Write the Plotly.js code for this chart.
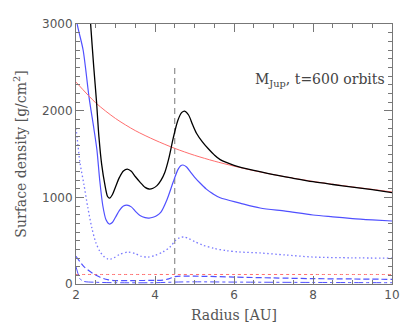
<!DOCTYPE html>
<html>
<head>
<meta charset="utf-8">
<script src="https://cdn.plot.ly/plotly-3.0.1.min.js"></script>
<style>
  body { margin: 0; background: #fff; }
  #chart { width: 415px; height: 332px; }
</style>
</head>
<body>
<div id="chart"></div>
<script>
// total density (black)
const rTotal = [2.3, 2.37, 2.45, 2.52, 2.58, 2.65, 2.73, 2.8, 2.85, 2.92, 3.0, 3.1, 3.2, 3.3, 3.4, 3.5, 3.62, 3.75, 3.85, 3.95, 4.05, 4.15, 4.25, 4.35, 4.46, 4.58, 4.68, 4.75, 4.85, 4.95, 5.05, 5.2, 5.35, 5.5, 5.65, 6.0, 6.5, 7.0, 7.5, 8.0, 8.5, 9.0, 9.5, 10.0];
const sigTotal = [3500, 3000, 2500, 2100, 1700, 1380, 1150, 1010, 990, 1030, 1120, 1230, 1305, 1326, 1300, 1240, 1176, 1115, 1096, 1105, 1135, 1195, 1290, 1450, 1680, 1890, 1980, 1995, 1950, 1840, 1740, 1640, 1560, 1490, 1435, 1370, 1310, 1262, 1220, 1180, 1148, 1118, 1088, 1055];

// initial profile (red)
const rInit = [2.0, 2.5, 3.0, 3.5, 4.0, 4.5, 5.0, 5.5, 6.0, 6.5, 7.0, 7.5, 8.0, 8.5, 9.0, 9.5, 10.0];
const sigInit = [2330, 2090, 1910, 1770, 1660, 1565, 1485, 1418, 1360, 1308, 1262, 1221, 1184, 1151, 1120, 1092, 1062];

// blue solid
const rBlue = [2.0, 2.03, 2.18, 2.33, 2.45, 2.53, 2.6, 2.68, 2.76, 2.84, 2.92, 3.0, 3.1, 3.2, 3.29, 3.4, 3.5, 3.62, 3.75, 3.85, 3.95, 4.05, 4.15, 4.3, 4.46, 4.58, 4.65, 4.71, 4.8, 4.9, 5.0, 5.14, 5.3, 5.47, 5.65, 6.15, 6.66, 7.3, 8.0, 8.5, 9.0, 9.5, 10.0];
const sigBlue = [3150, 3000, 2700, 2157, 1800, 1546, 1200, 900, 740, 692, 710, 770, 850, 900, 911, 890, 840, 790, 765, 761, 770, 790, 830, 970, 1176, 1320, 1365, 1373, 1350, 1290, 1234, 1165, 1095, 1040, 995, 934, 877, 840, 796, 775, 755, 740, 727];

// blue dotted
const rDot = [2.0, 2.05, 2.1, 2.2, 2.3, 2.4, 2.5, 2.6, 2.7, 2.8, 2.86, 2.95, 3.1, 3.32, 3.5, 3.65, 3.82, 4.0, 4.2, 4.38, 4.53, 4.63, 4.73, 4.85, 5.0, 5.2, 5.5, 5.8, 6.15, 6.66, 7.3, 8.0, 9.0, 10.0];
const sigDot = [1800, 1600, 1400, 1150, 880, 650, 480, 380, 320, 290, 285, 300, 340, 369, 350, 320, 311, 330, 370, 427, 507, 535, 542, 525, 490, 450, 410, 385, 369, 358, 335, 311, 302, 298];

// red dotted
const rRedDot = [2.0, 4.0, 6.0, 8.0, 10.0];
const sigRedDot = [110, 110, 110, 110, 110];

// blue dashed
const rDash = [2.0, 2.2, 2.4, 2.6, 2.8, 3.0, 3.5, 4.0, 4.2, 4.35, 4.5, 5.0, 6.0, 7.0, 8.0, 9.0, 10.0];
const sigDash = [320, 200, 130, 80, 50, 40, 40, 42, 45, 60, 85, 90, 80, 70, 62, 58, 54];

// blue dash-dot
const rDashDot = [2.0, 2.05, 2.1, 2.2, 2.5, 3.0, 4.0, 4.5, 5.0, 6.0, 8.0, 10.0];
const sigDashDot = [200, 120, 60, 30, 20, 15, 15, 22, 25, 22, 18, 15];

// planet location marker
const rPlanet = [4.5, 4.5];
const sigPlanet = [0, 2500];

const blue = 'rgb(80,80,255)';
const lightBlue = 'rgb(120,120,255)';
const red = 'rgb(255,110,110)';

function line(x, y, color, dash, width) {
  return {
    x: x, y: y, type: 'scatter', mode: 'lines',
    line: {color: color, dash: dash, width: width || 1.2, shape: 'spline', smoothing: 0.8},
    hoverinfo: 'skip', showlegend: false
  };
}

const traces = [
  line(rPlanet, sigPlanet, 'rgb(120,120,120)', '6px,4px', 1),
  line(rRedDot, sigRedDot, red, 'dot', 1),
  line(rDashDot, sigDashDot, blue, 'dashdot', 1),
  line(rDash, sigDash, blue, '6px,3px', 1.2),
  line(rDot, sigDot, lightBlue, '1.5px,2.5px', 1.3),
  line(rBlue, sigBlue, blue, 'solid', 1.2),
  line(rInit, sigInit, red, 'solid', 1),
  line(rTotal, sigTotal, 'black', 'solid', 1.3)
];

const axisCommon = {
  showline: true, linecolor: '#777', linewidth: 1,
  ticks: 'inside', ticklen: 8, tickcolor: '#777', mirror: 'allticks',
  showgrid: false, zeroline: false,
  tickfont: {family: 'DejaVu Sans', size: 12, color: '#555'}
};

const layout = {
  width: 415, height: 332,
  margin: {l: 76, r: 23, t: 24, b: 48},
  paper_bgcolor: 'white', plot_bgcolor: 'white',
  xaxis: Object.assign({}, axisCommon, {
    range: [2, 10], tickvals: [2, 4, 6, 8, 10],
    minor: {dtick: 0.5, ticks: 'inside', ticklen: 4, tickcolor: '#777'},
    title: {text: 'Radius [AU]', font: {family: 'DejaVu Serif', size: 14, color: '#555'}, standoff: 8}
  }),
  yaxis: Object.assign({}, axisCommon, {
    range: [0, 3000], tickvals: [0, 1000, 2000, 3000],
    minor: {dtick: 100, ticks: 'inside', ticklen: 4, tickcolor: '#777'},
    title: {text: 'Surface density [g/cm<sup>2</sup>]', font: {family: 'DejaVu Serif', size: 14, color: '#555'}, standoff: 12}
  }),
  annotations: [{
    x: 1, xref: 'paper', xanchor: 'right', xshift: -5,
    y: 2350, yref: 'y', yanchor: 'middle',
    text: 'M<sub>Jup</sub>, t=600 orbits', showarrow: false,
    font: {family: 'DejaVu Serif', size: 14, color: '#444'}
  }]
};

Plotly.newPlot('chart', traces, layout, {staticPlot: true, displayModeBar: false});
</script>
</body>
</html>
